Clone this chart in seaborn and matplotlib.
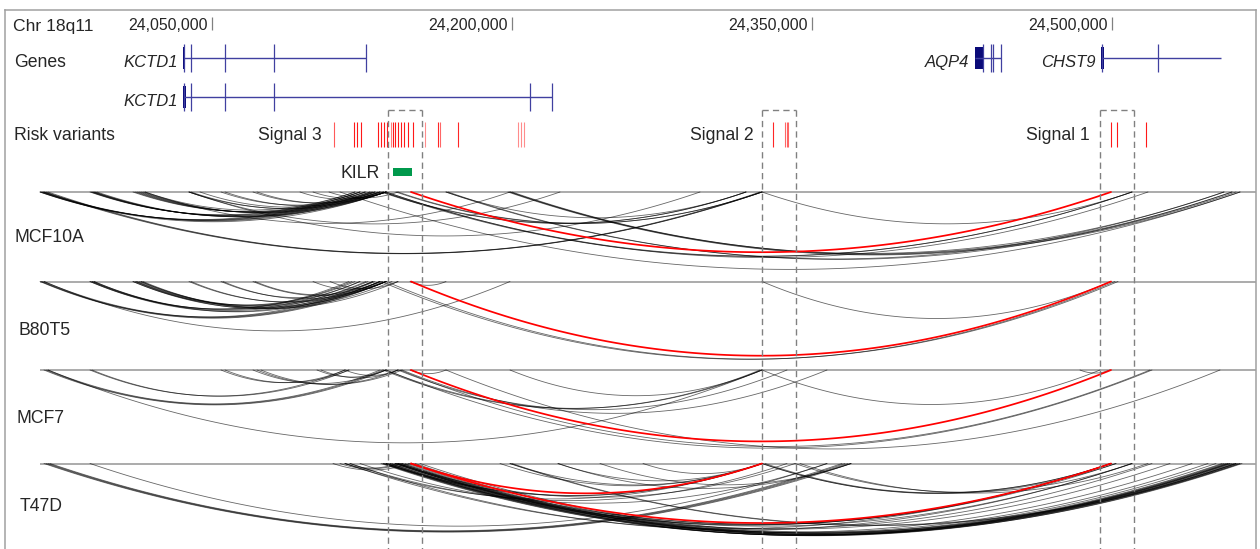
import numpy as np
import pandas as pd
import matplotlib
matplotlib.use("Agg")
import matplotlib.pyplot as plt
import seaborn as sns

# ---------------- data (chr18 positions in kb) ----------------
tick_kb = [24050, 24200, 24350, 24500]
tick_labels = ["24,050,000", "24,200,000", "24,350,000", "24,500,000"]

gene_names = ["KCTD1", "KCTD1", "AQP4", "CHST9"]
gene_row = [0, 1, 0, 0]
gene_start = [24036, 24036, 24431.5, 24495]
gene_end = [24127, 24220, 24444.5, 24554.5]
gene_exons = [
    [24036, 24039.5, 24056.5, 24081, 24127],
    [24036, 24039.5, 24056.5, 24081, 24209, 24220],
    [24435.5, 24439.5, 24440.5, 24444.5],
    [24495, 24523],
]
gene_block_start = [24035.5, 24035.5, 24431.5, 24494.5]
gene_block_end = [24036.5, 24036.8, 24435.5, 24496]

variant_kb = [24111, 24121, 24122.5, 24124.5, 24133, 24134.5, 24136,
              24137.5, 24139.5, 24140.5, 24141.5, 24143, 24144.5, 24146,
              24148, 24150.5, 24156.5, 24163, 24164, 24173,
              24203, 24204.5, 24206,
              24330.5, 24336.5, 24337.5, 24338,
              24499.5, 24502.5, 24517]
variant_alpha = [0.65, 0.9, 0.9, 0.9, 0.9, 0.9, 0.9,
                 0.9, 0.5, 0.9, 0.9, 0.9, 0.9, 0.9,
                 0.9, 0.9, 0.45, 0.85, 0.6, 0.85,
                 0.45, 0.45, 0.45,
                 0.85, 0.6, 0.6, 0.6,
                 0.9, 0.9, 0.9]

signal_names = ["Signal 3", "Signal 2", "Signal 1"]
signal_label_kb = [24105, 24321, 24489]
signal_box_start = [24138, 24325, 24494]
signal_box_end = [24155, 24342, 24511]

kilr_start, kilr_end = 24140.5, 24150

panels = ["MCF10A", "B80T5", "MCF7", "T47D"]

mcf10a_start = [23964, 23964.5, 23965, 23966, 23965.5, 23964,
                23989, 23989.5, 23990, 23990.5, 23991, 23991.5, 23992.5,
                24010.5, 24011.5, 24012.5, 24013.5, 24014.5, 24015.5, 24016.5,
                24038.5, 24039.5, 24044, 24054.5, 24056.5, 24070.5, 24072.5,
                24094, 24100.5, 24108.5, 24016.5, 24038.5, 24038.5,
                23966, 23967, 23968, 24134.5, 24135.5, 24143, 24142, 24167,
                24135.5, 24137, 24137, 24114, 24199, 24200, 24198, 24199, 24167,
                24168, 24325]
mcf10a_end = [24124, 24126.5, 24129, 24131.5, 24134, 24137,
              24121.5, 24124, 24127, 24130, 24133, 24135.5, 24137,
              24124, 24126.5, 24129, 24131.5, 24134, 24137, 24121.5,
              24134, 24137, 24131.5, 24130.5, 24137, 24134, 24137,
              24136, 24137, 24143, 24199, 24224, 24294,
              24325, 24324, 24325, 24317, 24317, 24325, 24325, 24317,
              24510, 24510, 24518, 24564, 24556, 24560, 24564, 24562, 24556,
              24560, 24510]

b80t5_start = [23964, 23965, 23966, 23964.5, 23989, 23990, 23991, 23989, 23991,
               23990, 24010.5, 24012, 24013.5, 24014.5, 24015.5, 24010.5, 24012.5,
               24011.5, 24014.5, 24038.5, 24039.5, 24054.5, 24055.5, 24070.5,
               24071.5, 24100.5, 24109, 23966, 24149, 24134.5, 24137, 24325]
b80t5_end = [24137, 24135.5, 24134, 24131.5, 24118.5, 24120, 24124, 24130.5, 24134,
             24127, 24137, 24134, 24130.5, 24137, 24143, 24121.5, 24124,
             24140, 24128, 24134, 24137, 24130.5, 24137, 24137,
             24134, 24137, 24143, 24199, 24167, 24501.5, 24503, 24499.5]

mcf7_start = [23966, 23967, 23968, 23989, 23990, 23968, 24054.5, 24056.5, 24070.5,
              24072.5, 24074.5, 24102.5, 24104.5, 24116.5, 24149, 24137, 24135.5,
              24143, 24145, 24199, 24325, 24484, 24137, 24167, 24144]
mcf7_end = [24137, 24135.5, 24134, 24116.5, 24118.5, 24325, 24116.5, 24118.5, 24137,
            24143, 24145, 24137, 24143, 24143, 24167, 24325, 24324,
            24337.5, 24357.5, 24325, 24494, 24499, 24520, 24554, 24519]

t47d_start = [23966, 23967, 23968, 23969, 23989, 24110.5, 24114, 24116.5, 24116.5,
              24119, 24124, 24134.5, 24135.5, 24137, 24138, 24139, 24140, 24141.5,
              24143, 24144, 24145, 24146.5, 24148, 24151.5, 24154, 24141.5, 24137,
              24139, 24143, 24145, 24141.5, 24137, 24143, 24135.5, 24137, 24143,
              24199, 24194, 24223, 24223, 24244, 24325, 24326.5, 24325, 24341.5,
              24344, 24116.5, 24119, 24199, 24200, 24265.5, 24136, 24142]
t47d_end = [24369.5, 24368, 24366.5, 24365, 24357.5, 24149, 24145, 24143, 24325,
            24337.5, 24357.5, 24556, 24558, 24560, 24562, 24564, 24559, 24557,
            24561, 24563, 24555, 24565, 24559, 24562, 24558, 24552, 24499.5,
            24499.5, 24499.5, 24502, 24510, 24520, 24529, 24325, 24325, 24341.5,
            24325, 24325, 24325, 24369.5, 24369.5, 24499.5, 24499.5, 24502, 24510,
            24518, 24499.5, 24510, 24564, 24562, 24325, 24540, 24548]

red_start = [[24149.5], [24149.5], [24149.5], [24149.5, 24149.5]]
red_end = [[24499.5], [24499.5], [24499.5], [24325, 24499.5]]

# ---------------- layout / style ----------------
PX_PER_KB = 2.0
panel_base = [192, 281.5, 370, 463.5]
panel_k = [0.086, 0.106, 0.102, 0.085]
panel_label_x = [23951, 23953, 23952, 23954]
panel_label_y = [242.5, 335, 423, 511]
FONT = ["Liberation Sans", "DejaVu Sans"]
LABEL_FS = 12.7

sns.set_style("white")
plt.rcParams["font.family"] = FONT

fig = plt.figure(figsize=(12.6, 5.49), dpi=100)
ax = fig.add_axes([5 / 1260, 0, (1256 - 5) / 1260, (549 - 9.5) / 549])
ax.set_xlim(23946.5, 24572)
ax.set_ylim(549, 9.5)

# build arcs
all_starts = [mcf10a_start, b80t5_start, mcf7_start, t47d_start]
all_ends = [mcf10a_end, b80t5_end, mcf7_end, t47d_end]
rows = []
t = np.linspace(0, 1, 90)
for p in range(4):
    for kind, ss, ee in (("gray", all_starts[p], all_ends[p]),
                          ("red", red_start[p], red_end[p])):
        for i, (s, e) in enumerate(zip(ss, ee)):
            depth = panel_k[p] * (e - s) * PX_PER_KB
            xs = s + (e - s) * t
            ys = panel_base[p] + depth * 4 * t * (1 - t)
            for xv, yv in zip(xs, ys):
                rows.append((xv, yv, f"{p}-{kind}-{i}", kind))
arcs = pd.DataFrame(rows, columns=["x", "y", "arc", "kind"])

# baselines
ax.hlines(panel_base, 23964, 24572, colors="#959595", lw=1.1, zorder=1)

sns.lineplot(data=arcs[arcs.kind == "gray"], x="x", y="y", units="arc",
             estimator=None, sort=False, color="black", linewidth=0.6,
             alpha=0.6, ax=ax, legend=False, zorder=2)
sns.lineplot(data=arcs[arcs.kind == "red"], x="x", y="y", units="arc",
             estimator=None, sort=False, color="#ff0000", linewidth=1.25,
             alpha=1.0, ax=ax, legend=False, zorder=3)

# header
ax.text(23950.5, 31.5, "Chr 18q11", fontsize=12.6, va="baseline", ha="left")
for tk, tl in zip(tick_kb, tick_labels):
    ax.annotate(tl, (tk, 29.5), xytext=(-4, 0), textcoords="offset pixels",
                ha="right", va="baseline", fontsize=11.4)
ax.vlines(tick_kb, 17, 30, colors="#808080", lw=0.9)

# genes
row_y = [57.5, 96.5]
ax.text(23951, 66.7, "Genes", fontsize=LABEL_FS, va="baseline", ha="left")
for g in range(len(gene_names)):
    y = row_y[gene_row[g]]
    ax.hlines(y, gene_start[g], gene_end[g], colors="#4040a0", lw=1.0)
    ax.vlines(gene_exons[g], y - 14, y + 14, colors="#4040a0", lw=0.9)
    ax.fill_between([gene_block_start[g], gene_block_end[g]], y - 11, y + 11,
                    color="#0a0a78", lw=0)
    ax.annotate(gene_names[g], (gene_start[g], y + 9.2), xytext=(-6, 0),
                textcoords="offset pixels", ha="right", va="baseline",
                fontsize=12, style="italic")

# risk variants
ax.text(23951, 140, "Risk variants", fontsize=LABEL_FS, va="baseline", ha="left")
ax.vlines(variant_kb, 121.5, 147, colors=[(1, 0, 0, a) for a in variant_alpha], lw=0.8)
for name, lx in zip(signal_names, signal_label_kb):
    ax.text(lx, 140, name, fontsize=LABEL_FS, va="baseline", ha="right")

# KILR
ax.text(24134, 178, "KILR", fontsize=LABEL_FS, va="baseline", ha="right")
ax.fill_between([kilr_start, kilr_end], 168, 175.5, color="#00994c", lw=0, zorder=4)

# signal boxes
dash = (0, (4.5, 3))
for s, e in zip(signal_box_start, signal_box_end):
    ax.vlines([s, e], 110, 549, colors="#808080", lw=1.0, linestyles=dash, zorder=5)
    ax.hlines(110, s, e, colors="#808080", lw=1.0, linestyles=dash, zorder=5)

# panel labels
for name, lx, ly in zip(panels, panel_label_x, panel_label_y):
    ax.text(lx, ly, name, fontsize=LABEL_FS, va="baseline", ha="left")

ax.set_xticks([])
ax.set_yticks([])
ax.set_xlabel("")
ax.set_ylabel("")
for side in ["top", "left", "right"]:
    ax.spines[side].set_color("#a0a0a0")
    ax.spines[side].set_linewidth(1.1)
ax.spines["bottom"].set_visible(False)

fig.savefig("out.png", dpi=100, facecolor="white")
